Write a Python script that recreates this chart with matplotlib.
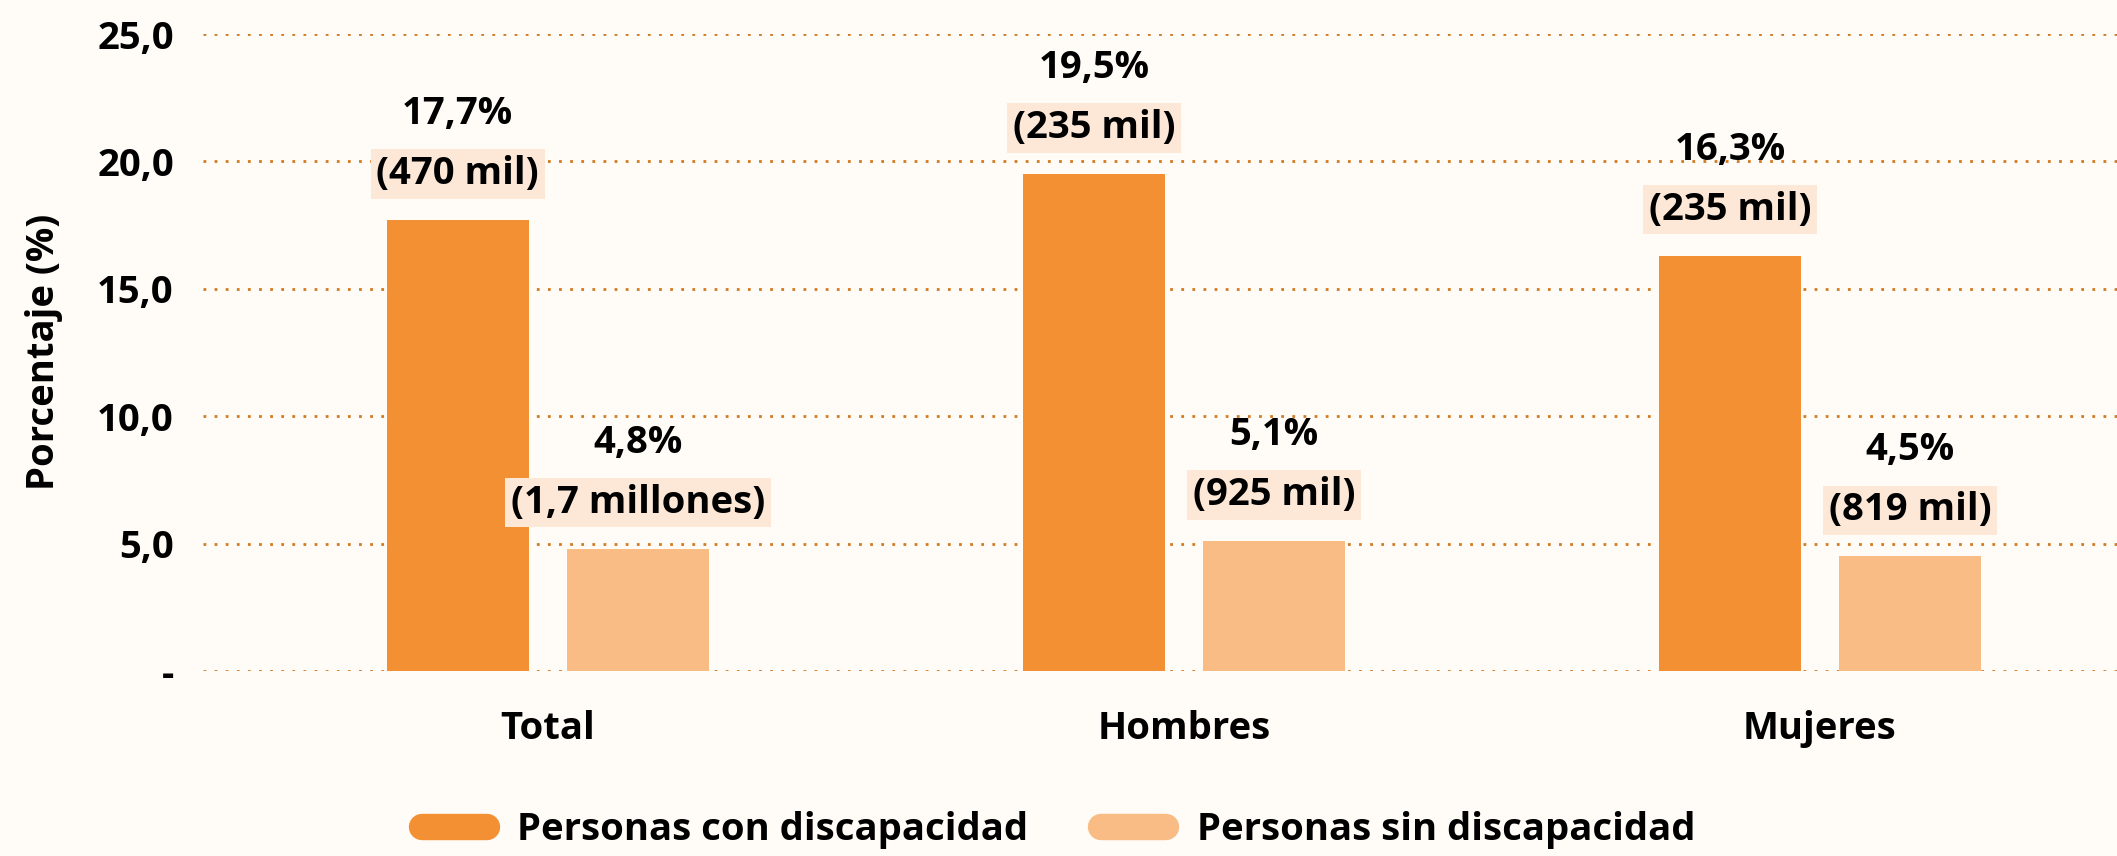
import matplotlib.pyplot as plt
from matplotlib.lines import Line2D
import numpy as np

plt.rcParams['font.family'] = ['Open Sans', 'DejaVu Sans']

categories = ['Total', 'Hombres', 'Mujeres']
con_disc = [17.7, 19.5, 16.3]
sin_disc = [4.8, 5.1, 4.5]
con_counts = ['470 mil', '235 mil', '235 mil']
sin_counts = ['1,7 millones', '925 mil', '819 mil']
series_names = ['Personas con discapacidad', 'Personas sin discapacidad']
yticks = [0, 5, 10, 15, 20, 25]

bg = '#FFFBF6'
dark = '#F39033'
light = '#F8BC84'
boxcol = '#FDE8D7'
gridcol = '#D27A22'
fs = 27.5

fig = plt.figure(figsize=(21.17, 8.56), dpi=100, facecolor=bg)
ax = fig.add_axes([203 / 2117, 185 / 856, 1 - 203 / 2117, 637 / 856])
ax.set_facecolor(bg)

x = np.arange(len(categories))
w = 0.223
off = 0.1415
b1 = ax.bar(x - off, con_disc, w, color=dark, zorder=3)
b2 = ax.bar(x + off, sin_disc, w, color=light, zorder=3)

ax.set_ylim(0, 25)
ax.set_xlim(-0.542, 2.467)
ax.set_yticks(yticks)
ax.set_yticklabels(['-' if v == 0 else f'{v:.1f}'.replace('.', ',') for v in yticks])
ax.set_xticks(x)
ax.set_xticklabels(categories)
ax.tick_params(axis='y', length=0, pad=21, labelsize=fs)
ax.tick_params(axis='x', length=0, pad=28, labelsize=fs)
for lab in ax.get_xticklabels() + ax.get_yticklabels():
    lab.set_fontweight('bold')
for s in ax.spines.values():
    s.set_visible(False)
ax.yaxis.grid(True, color=gridcol, linestyle=(0, (1, 3)), linewidth=2.0, zorder=0)
ax.set_axisbelow(True)

for bars, vals, counts in [(b1, con_disc, con_counts), (b2, sin_disc, sin_counts)]:
    for bar, v, c in zip(bars, vals, counts):
        cx = bar.get_x() + bar.get_width() / 2
        ax.annotate(f'{v:.1f}%'.replace('.', ','), (cx, v), xytext=(0, 106),
                    textcoords='offset pixels', ha='center', va='center',
                    fontsize=fs, fontweight='bold', zorder=5)
        ax.annotate(f'({c})', (cx, v), xytext=(0, 46),
                    textcoords='offset pixels', ha='center', va='center',
                    fontsize=fs, fontweight='bold', zorder=5,
                    bbox=dict(boxstyle='square,pad=0.15', fc=boxcol, ec='none'))

fig.text(44 / 2117, 1 - 352 / 856, 'Porcentaje (%)', rotation=90, ha='center',
         va='center', fontsize=fs, fontweight='bold')

handles = [Line2D([0], [0], color=dark, lw=19, solid_capstyle='round'),
           Line2D([0], [0], color=light, lw=19, solid_capstyle='round')]
fig.legend(handles, series_names, loc='center', bbox_to_anchor=(0.5, 1 - 830 / 856),
           ncol=2, frameon=False, prop={'size': fs, 'weight': 'bold'},
           handlelength=1.7, columnspacing=1.9, handletextpad=0.8,
           borderpad=0.1)

fig.savefig('out.png', dpi=100, facecolor=bg)
